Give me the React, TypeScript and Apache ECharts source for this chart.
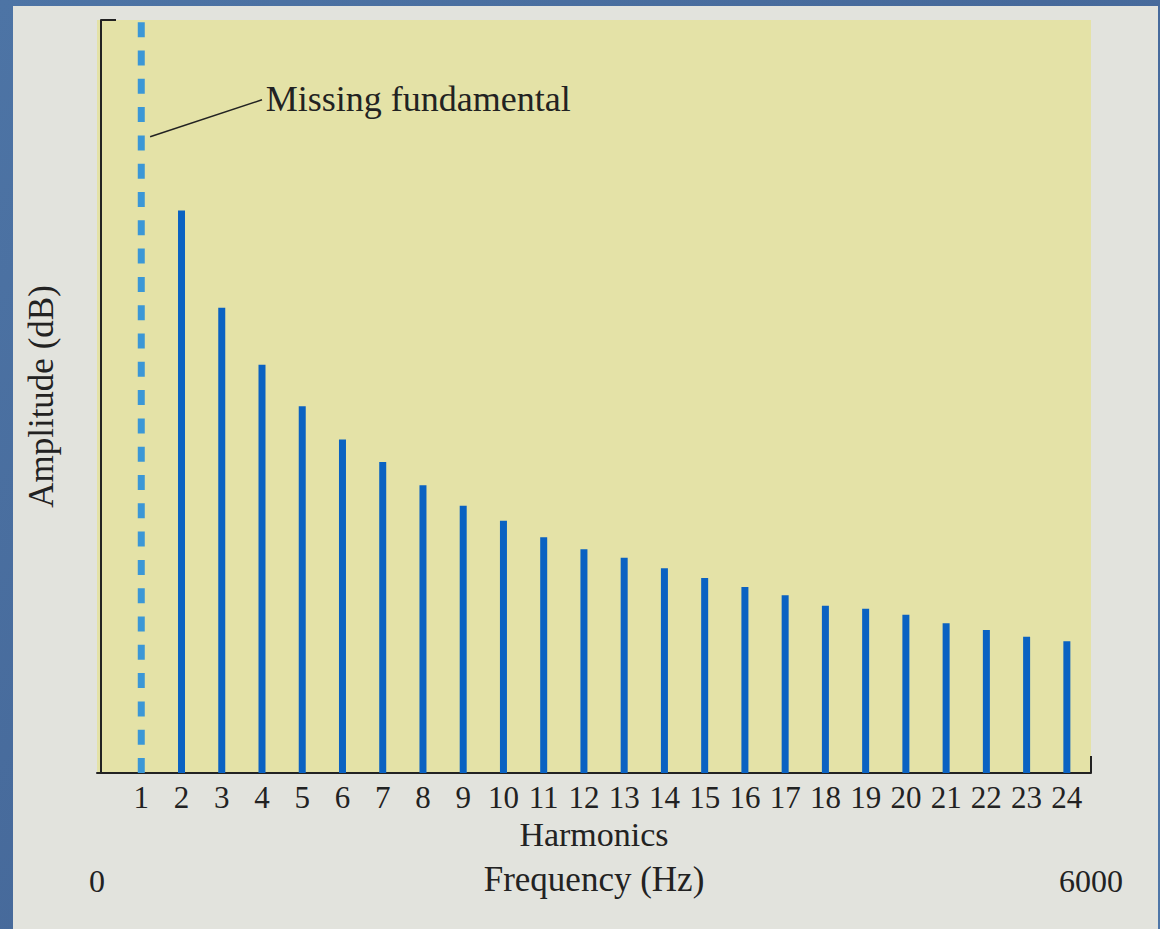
import React, { useEffect, useRef } from "react";
import * as echarts from "echarts";

// Harmonic numbers shown as tick labels
const harmonicTicks = [1, 2, 3, 4, 5, 6, 7, 8, 9, 10, 11, 12, 13, 14, 15, 16, 17, 18, 19, 20, 21, 22, 23, 24];
// Present harmonics and their amplitudes (relative units, 0..100)
const harmonics = [2, 3, 4, 5, 6, 7, 8, 9, 10, 11, 12, 13, 14, 15, 16, 17, 18, 19, 20, 21, 22, 23, 24];
const amplitudes = [74.7, 61.8, 54.2, 48.7, 44.3, 41.3, 38.2, 35.5, 33.5, 31.3, 29.7, 28.6, 27.2, 25.9, 24.7, 23.6, 22.2, 21.8, 21.0, 19.9, 19.0, 18.1, 17.5];
// Missing fundamental (dashed)
const fundamental = [1];
const fundamentalSpan = [0, 100];
// Frequency axis end labels (Hz)
const frequencyTicks = [0, 6000];

const FONT = "'Liberation Serif', 'Times New Roman', serif";
const TEXT = "#222222";

export default function App() {
  const ref = useRef<HTMLDivElement>(null);
  useEffect(() => {
    if (!ref.current) return;
    const chart = echarts.init(ref.current, null, { renderer: "svg" });
    const option: any = {
      animation: false,
      grid: {
        left: 97,
        top: 20,
        right: 69,
        bottom: 156,
        show: true,
        backgroundColor: "#e4e2a7",
        borderWidth: 0,
        outerBoundsMode: "none",
      },
      xAxis: [
        {
          type: "value",
          min: -0.1,
          max: 24.6,
          position: "bottom",
          splitLine: { show: false },
          axisLine: { show: true, onZero: false, lineStyle: { color: TEXT, width: 2 } },
          axisTick: { show: true, inside: true, length: 17, customValues: [24.6], lineStyle: { color: TEXT, width: 2 } },
          axisLabel: {
            customValues: harmonicTicks,
            formatter: (v: number) => String(v),
            fontSize: 31,
            lineHeight: 26,
            margin: 11,
            fontFamily: FONT,
            color: TEXT,
            showMinLabel: true,
            showMaxLabel: true,
          },
          name: "Harmonics",
          nameLocation: "middle",
          nameGap: 47,
          nameMoveOverlap: false,
          nameTextStyle: { fontSize: 34, lineHeight: 28, fontFamily: FONT, color: TEXT },
        },
        {
          type: "value",
          min: 0,
          max: 6000,
          position: "bottom",
          offset: 60,
          splitLine: { show: false },
          axisLine: { show: false },
          axisTick: { show: false },
          axisLabel: {
            customValues: frequencyTicks,
            formatter: (v: number) => String(v),
            fontSize: 32,
            lineHeight: 32,
            margin: 32,
            fontFamily: FONT,
            color: TEXT,
            showMinLabel: true,
            showMaxLabel: true,
          },
          name: "Frequency (Hz)",
          nameLocation: "middle",
          nameGap: 29,
          nameMoveOverlap: false,
          nameTextStyle: { fontSize: 35, lineHeight: 35, fontFamily: FONT, color: TEXT },
        },
      ],
      yAxis: {
        type: "value",
        min: 0,
        max: 100,
        splitLine: { show: false },
        axisLine: { show: true, lineStyle: { color: TEXT, width: 2 } },
        axisTick: { show: true, inside: true, length: 15, customValues: [100], lineStyle: { color: TEXT, width: 2 } },
        axisLabel: { show: false },
        name: "Amplitude (dB)",
        nameLocation: "middle",
        nameRotate: 90,
        nameGap: 38,
        nameTextStyle: { fontSize: 35, lineHeight: 35, fontFamily: FONT, color: TEXT },
      },
      series: [
        {
          type: "line",
          name: "Missing fundamental",
          xAxisIndex: 0,
          symbol: "none",
          data: fundamentalSpan.map((v) => [fundamental[0], v]),
          lineStyle: { color: "#3b97d6", width: 7, type: [15, 13.3], cap: "butt" },
          z: 3,
          markLine: {
            silent: true,
            symbol: "none",
            animation: false,
            lineStyle: { color: TEXT, width: 1.5, type: "solid" },
            label: {
              show: true,
              position: "end",
              distance: 4,
              formatter: "Missing fundamental",
              fontSize: 36,
              fontFamily: FONT,
              color: TEXT,
            },
            data: [[{ coord: [1.22, 84.5] }, { coord: [4.0, 89.4] }]],
          },
        },
        {
          type: "bar",
          name: "Harmonics",
          xAxisIndex: 0,
          barWidth: 7,
          data: harmonics.map((h, i) => [h, amplitudes[i]]),
          itemStyle: { color: "#0a62c2" },
        },
      ],
    };
    chart.setOption(option);
    return () => chart.dispose();
  }, []);

  return (
    <div
      style={{
        position: "fixed",
        left: 0,
        top: 0,
        width: 1160,
        height: 929,
        background: "linear-gradient(135deg, #4d74a5 0%, #46699a 50%, #4f77a8 100%)",
      }}
    >
      <div
        style={{
          position: "absolute",
          left: 13,
          top: 6,
          width: 1145,
          height: 923,
          background: "#e2e3dd",
        }}
      />
      <div ref={ref} style={{ position: "absolute", left: 0, top: 0, width: 1160, height: 929 }} />
    </div>
  );
}
